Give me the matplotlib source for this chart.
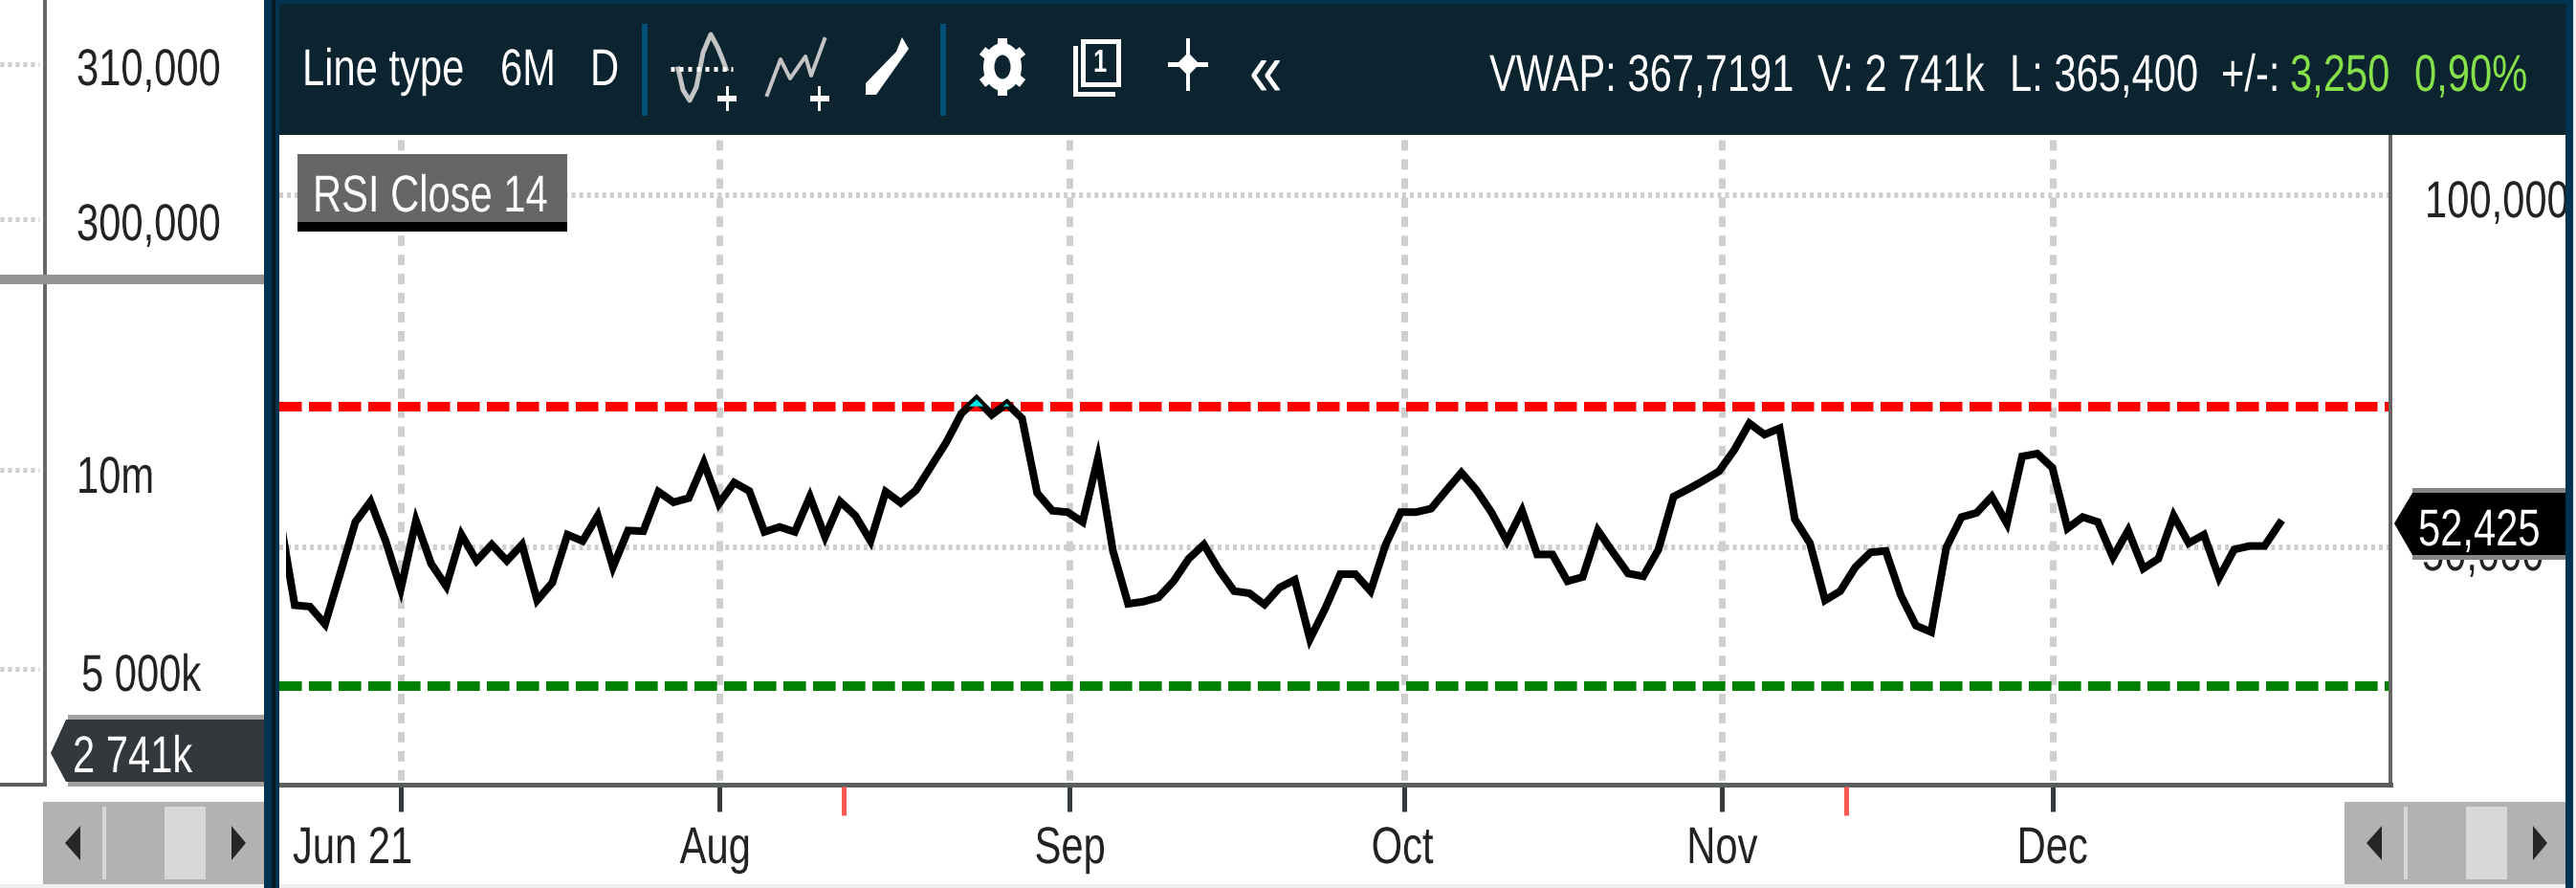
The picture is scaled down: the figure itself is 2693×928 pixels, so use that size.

# RSI panel of a trading platform chart, with the price/volume axis on the left
import matplotlib
matplotlib.use("Agg")
import matplotlib.pyplot as plt
from matplotlib.patches import Rectangle, Polygon, Ellipse
from matplotlib.patheffects import AbstractPathEffect
from matplotlib.transforms import Affine2D

W, H = 2693, 929

# RSI close 14, one value a trading day
rsi = [54.5, 41.8, 41.6, 39.1, 46.3, 53.6, 56.5, 50.9, 44.1, 53.8,
       47.7, 44.5, 51.8, 48.1, 50.4, 48.1, 50.4, 42.5, 45.0, 51.8,
       50.9, 54.5, 47.2, 52.4, 52.3, 57.9, 56.4, 57.0, 62.0, 56.2,
       59.2, 58.0, 52.2, 52.9, 52.2, 57.2, 51.5, 56.5, 54.5, 50.9,
       57.9, 56.3, 58.1, 61.5, 64.9, 69.0, 71.0, 68.8, 70.4, 68.3,
       57.7, 55.2, 55.0, 53.6, 62.6, 49.5, 42.0, 42.3, 42.9, 45.2,
       48.4, 50.4, 46.8, 43.8, 43.5, 41.9, 44.3, 45.4, 37.0, 41.3,
       46.2, 46.2, 43.8, 50.4, 55.0, 55.0, 55.5, 58.1, 60.6, 58.1,
       54.9, 50.9, 55.2, 49.0, 49.0, 45.2, 45.8, 52.4, 49.3, 46.3,
       45.9, 49.7, 57.2, 58.3, 59.5, 60.8, 63.8, 67.6, 66.0, 66.9,
       54.0, 50.6, 42.5, 43.8, 47.2, 49.3, 49.5, 43.2, 38.9, 38.0,
       50.0, 54.3, 54.9, 57.2, 53.4, 62.9, 63.3, 61.3, 52.7, 54.3,
       53.6, 48.6, 52.4, 47.0, 48.4, 54.5, 50.6, 51.8, 45.7, 49.7,
       50.2, 50.2, 53.4]
upper_level = 70
lower_level = 30.3
grid_levels = [50, 100]

month_ticks = [8, 29, 52.1, 74.2, 95.2, 117]
month_labels = ["Jun 21", "Aug", "Sep", "Oct", "Nov", "Dec"]
event_ticks = [37.2, 103.4]

FONT = ["Liberation Sans", "DejaVu Sans"]
NAVY = "#003350"
HEAD = "#0c2330"
GRID = "#cfcfcf"
INK = "#222222"
SIZE = 39
SQUEEZE = 0.77


def px(n):
    return n * 72 / 100


# the reference uses a narrow face that is not installed, so squeeze the glyphs
class Narrow(AbstractPathEffect):
    def draw_path(self, renderer, gc, tpath, affine, rgbFace=None):
        renderer.draw_path(gc, tpath, Affine2D().scale(SQUEEZE, 1) + affine, rgbFace)


fig = plt.figure(figsize=(W / 100, H / 100), dpi=100)

# the chart itself
ax = fig.add_axes([292 / W, 1 - 821 / H, (2499 - 292) / W, (821 - 142) / H])
ax.set_xlim(-0.018, 139.31)
ax.set_ylim(16.35, 108.5)
for s in ["top", "left"]:
    ax.spines[s].set_visible(False)
ax.spines["bottom"].set_linewidth(px(5))
ax.spines["bottom"].set_color("#5a5f5e")
ax.spines["right"].set_linewidth(px(4))
ax.spines["right"].set_color("#666666")
ax.set_yticks([])

for m in month_ticks:
    ax.plot([m, m], [107.8, 16.35], color=GRID, lw=px(7),
            dashes=(1.55, 1.3), dash_capstyle="butt", zorder=1)
for g in grid_levels:
    ax.plot([-0.018, 139.31], [g, g], color=GRID, lw=px(6),
            dashes=(0.67, 0.67), dash_capstyle="butt", zorder=1)

ax.plot([-0.018, 139.31], [upper_level, upper_level], color="#ff0000", lw=px(10),
        dashes=(2.35, 0.75), dash_capstyle="butt", zorder=2)
ax.plot([-0.018, 139.31], [lower_level, lower_level], color="#008000", lw=px(10),
        dashes=(2.36, 0.74), dash_capstyle="butt", zorder=2)

days = list(range(len(rsi)))
line, = ax.plot(days, rsi, color="black", lw=px(8), solid_joinstyle="miter", zorder=4)
line.set_clip_path(Rectangle((0.4, 16.35), 139, 92.15, transform=ax.transData))
ax.fill_between(days, rsi, upper_level, where=[v > upper_level for v in rsi],
                interpolate=True, color="#00e5e5", lw=0, zorder=5)

ax.set_xticks(month_ticks, month_labels, fontfamily=FONT, fontsize=SIZE, color=INK)
ax.tick_params(axis="x", length=px(28), width=px(5), color="#33393c", pad=px(15))
for lab, dx in zip(ax.get_xticklabels(), [-113, -41, -36, -34, -37, -37]):
    lab.set_ha("left")
    lab.set_transform(lab.get_transform() + Affine2D().translate(dx, 0))
    lab.set_path_effects([Narrow()])
ax.vlines(event_ticks, 16.35 - 0.3, 16.35 - 4.4, color="#ff5a50", lw=px(5), clip_on=False, zorder=5)

# everything around it, in pixel coordinates
fg = fig.add_axes([0, 0, 1, 1], facecolor="none")
fg.set_xlim(0, W)
fg.set_ylim(H, 0)
fg.axis("off")


def box(x0, y0, x1, y1, color, z=2):
    fg.add_patch(Rectangle((x0, y0), x1 - x0, y1 - y0, facecolor=color, edgecolor="none", zorder=z))


def label(x, y, s, color=INK, size=SIZE, z=5, weight="normal"):
    t = fg.text(x, y, s, color=color, fontsize=size, ha="left", va="baseline", family=FONT,
                zorder=z, weight=weight)
    t.set_path_effects([Narrow()])


# left price and volume column
box(45, 0, 49, 823, "#666666")
box(0, 288, 276, 298, "#929292")
box(0, 819, 49, 823, "#5a5f5e")
for y in [68, 230, 492, 700]:
    fg.plot([0, 41], [y, y], color=GRID, lw=px(5), dashes=(0.8, 0.8), dash_capstyle="butt", zorder=2)
label(80, 90, "310,000")
label(80, 252, "300,000")
label(80, 516, "10m")
label(85, 723, "5 000k")

box(71, 748, 276, 823, "#a0a0a0", 3)
fg.add_patch(Polygon([(53, 788), (69, 753), (276, 753), (276, 818), (69, 818)],
                     facecolor="#32383b", edgecolor="none", zorder=3))
label(76, 808, "2 741k", color="white")

# panel frame and header
box(276, 0, 292, H, NAVY, 6)
box(284, 0, 288, H, "#0b1a22", 7)
box(2682, 0, 2690, H, NAVY, 6)
box(2690, 0, 2693, H, "#eeeeee", 6)
box(292, 0, 2682, 5, NAVY, 6)
box(292, 5, 2682, 142, HEAD, 3)
box(0, 925, 2682, 929, "#eeeeee", 2)
box(671, 26, 677, 122, "#005177", 4)
box(983, 26, 989, 122, "#005177", 4)

label(316, 90, "Line type", color="white")
label(523, 90, "6M", color="white")
label(617, 90, "D", color="white")
label(1557, 96, "VWAP: 367,7191", color="white")
label(1900, 96, "V: 2 741k", color="white")
label(2101, 96, "L: 365,400", color="white")
label(2322, 96, "+/-:", color="white")
label(2394, 96, "3,250", color="#85e04a")
label(2524, 96, "0,90%", color="#85e04a")

# header icons
fg.plot([709, 714, 721, 728, 735, 743, 750, 755, 759],
        [73, 95, 106, 92, 56, 37, 50, 62, 73], color="#c4c4c4", lw=px(5), zorder=4)
fg.plot([701, 766], [73, 73], color="white", lw=px(5), dashes=(0.8, 1.0), dash_capstyle="butt", zorder=4)
fg.plot([802, 816, 826, 842, 848, 862], [100, 63, 83, 60, 80, 42], color="#c4c4c4", lw=px(4), zorder=4)
for cx in [760, 856.5]:
    box(cx - 10, 101, cx + 10, 107, "white", 4)
    box(cx - 1.5, 91, cx + 1.5, 117, "white", 4)
fg.add_patch(Polygon([(905, 100), (916, 100), (950, 52), (943, 40), (937, 55), (905, 88)],
                     facecolor="white", edgecolor="none", zorder=4))

fg.add_patch(Ellipse((1048, 71), 40, 50, facecolor="white", edgecolor="none", zorder=4))
for x0, y0, x1, y1 in [(1048, 41, 1048, 101), (1027, 54, 1069, 88), (1027, 88, 1069, 54)]:
    fg.plot([x0, x1], [y0, y1], color="white", lw=px(10), solid_capstyle="butt", zorder=4)
fg.add_patch(Ellipse((1048, 71), 17, 25, facecolor=HEAD, edgecolor="none", zorder=5))

fg.add_patch(Rectangle((1131.5, 43.5), 37, 45, facecolor="none", edgecolor="white", lw=px(5), zorder=4))
fg.plot([1123.5, 1123.5, 1163], [51, 98.5, 98.5], color="white", lw=px(5), solid_joinstyle="miter", zorder=4)
label(1143, 76, "1", color="white", size=24, weight="bold")
box(1240, 41, 1244, 96, "white", 4)
box(1221, 66, 1263, 71, "white", 4)
fg.add_patch(Polygon([(1242, 56), (1254, 68), (1242, 80), (1230, 68)], facecolor="white", edgecolor="none", zorder=4))
label(1306, 101, "«", color="white", size=58)

# legend tag of the indicator
box(311, 162, 593, 233, "#666666", 5)
box(311, 233, 593, 243, "black", 5)
label(327, 222, "RSI Close 14", color="white", z=6)

# right axis
label(2535, 228, "100,000", z=2)
label(2532, 597, "50,000", z=2)
box(2522, 511, 2682, 586, "#868686", 3)
fg.add_patch(Polygon([(2503, 548), (2522, 516), (2682, 516), (2682, 581), (2522, 581)],
                     facecolor="black", edgecolor="none", zorder=3))
label(2528, 571, "52,425", color="white")

# scrollbars
for x0, x1, bar, th0, th1, a0, a1, b0, b1 in [(45, 276, 107, 172, 215, 68, 84, 242, 257),
                                              (2451, 2682, 2513, 2578, 2621, 2474, 2490, 2648, 2663)]:
    box(x0, 839, x1, 925, "#b2b2b2", 2)
    box(bar, 844, bar + 4, 920, "#d8d8d8", 3)
    box(th0, 844, th1, 920, "#d8d8d8", 3)
    fg.add_patch(Polygon([(a0, 882), (a1, 864), (a1, 900)], facecolor="#262626", edgecolor="none", zorder=3))
    fg.add_patch(Polygon([(b1, 882), (b0, 864), (b0, 900)], facecolor="#262626", edgecolor="none", zorder=3))

fig.savefig("out.png", dpi=100, facecolor="white")
